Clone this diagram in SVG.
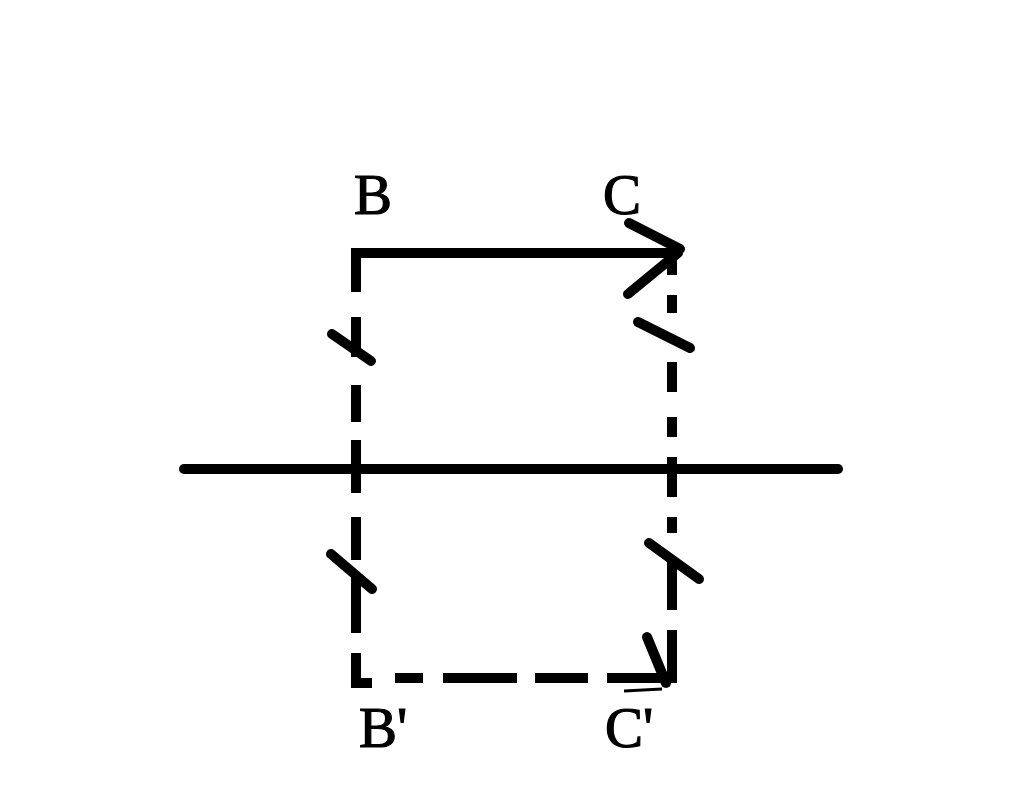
<svg xmlns="http://www.w3.org/2000/svg" width="1024" height="802" viewBox="0 0 1024 802">
<style>
.s{stroke:#000;stroke-width:10;fill:none;stroke-linecap:butt}
.r{stroke:#000;stroke-width:10;fill:none;stroke-linecap:round}
.t{font-family:"Liberation Serif","Times New Roman",serif;font-size:57px;fill:#000;stroke:#000;stroke-width:1.2}
</style>
<rect width="1024" height="802" fill="#fff"/>
<g id="connectors">
<!-- axis -->
<line class="r" x1="184" y1="469" x2="838" y2="469"/>
<!-- B to C solid arrow -->
<polyline class="s" points="356,292 356,253 678,253"/>
<line class="r" x1="629" y1="223" x2="680" y2="249"/>
<line class="r" x1="628" y1="294" x2="678" y2="253"/>
<!-- left dashed vertical -->
<path class="s" d="M356,317V357M356,385V422M356,440V493M356,517V560M356,573V633M356,653V683H372M395,678H423M443,678H517M535,678H588M607,678H667"/>
<!-- right dashed vertical -->
<path class="s" d="M672,258V275M672,295V313M672,362V392M672,417V437M672,457V497M672,517V533M672,558V610M672,630V683"/>
<!-- bottom arrowhead -->
<line class="r" x1="647" y1="637" x2="666" y2="683"/>
<line x1="624" y1="691" x2="662" y2="689" stroke="#000" stroke-width="3"/>
<!-- tick marks -->
<line class="r" x1="332" y1="334" x2="371" y2="361"/>
<line class="r" x1="638" y1="322" x2="690" y2="348"/>
<line class="r" x1="331" y1="554" x2="372" y2="589"/>
<line class="r" x1="649" y1="543" x2="699" y2="579"/>
</g>
<g id="B"><text class="t" x="354" y="214">B</text></g>
<g id="C"><text class="t" x="603" y="214">C</text></g>
<g id="B-prime"><text class="t" x="359" y="747">B'</text></g>
<g id="C-prime"><text class="t" x="605" y="747">C'</text></g>
</svg>
